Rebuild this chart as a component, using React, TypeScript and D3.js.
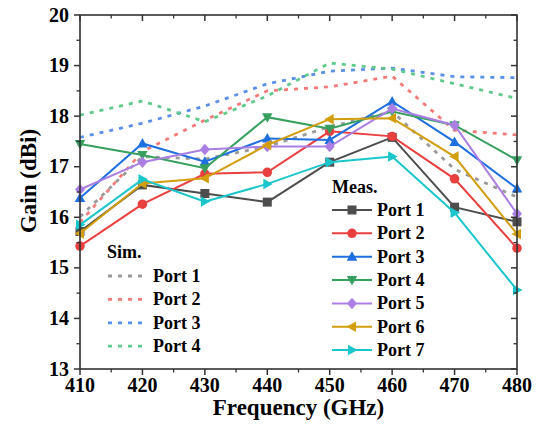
import React from "react";
import * as d3 from "d3";

const freqs = [410, 420, 430, 440, 450, 460, 470, 480];
const xTicks = [410, 420, 430, 440, 450, 460, 470, 480];
const yTicks = [13, 14, 15, 16, 17, 18, 19, 20];

const simNames = ["Port 1", "Port 2", "Port 3", "Port 4"];
const simColors = ["#9a9a9a", "#f47a7a", "#5b8fea", "#5fc98c"];
const simPort1 = [16.01, 17.2, 17.15, 17.4, 17.79, 18.09, 16.95, 16.4];
const simPort2 = [15.9, 17.3, 17.92, 18.5, 18.58, 18.79, 17.72, 17.63];
const simPort3 = [17.58, 17.86, 18.2, 18.64, 18.89, 18.95, 18.78, 18.76];
const simPort4 = [18.02, 18.3, 17.89, 18.4, 19.05, 18.93, 18.64, 18.35];
const simSeries = [simPort1, simPort2, simPort3, simPort4];

const measNames = ["Port 1", "Port 2", "Port 3", "Port 4", "Port 5", "Port 6", "Port 7"];
const measColors = ["#4d4d4d", "#ea3f3f", "#1e6fe0", "#37a05e", "#ab7ee4", "#d29e0e", "#1ac6cb"];
const measShapes = ["square", "circle", "up", "down", "diamond", "left", "right"];
const measPort1 = [15.72, 16.64, 16.47, 16.3, 17.09, 17.58, 16.2, 15.91];
const measPort2 = [15.43, 16.26, 16.86, 16.89, 17.7, 17.6, 16.76, 15.39];
const measPort3 = [16.38, 17.46, 17.1, 17.56, 17.53, 18.29, 17.49, 16.57];
const measPort4 = [17.45, 17.23, 16.97, 17.98, 17.75, 18.09, 17.82, 17.13];
const measPort5 = [16.55, 17.09, 17.34, 17.4, 17.4, 18.15, 17.82, 16.07];
const measPort6 = [15.68, 16.67, 16.77, 17.43, 17.94, 17.96, 17.2, 15.67];
const measPort7 = [15.85, 16.75, 16.31, 16.66, 17.09, 17.2, 16.09, 14.56];
const measSeries = [measPort1, measPort2, measPort3, measPort4, measPort5, measPort6, measPort7];

const FONT = "'Times New Roman', Times, 'Liberation Serif', Tinos, 'DejaVu Serif', 'Noto Serif', FreeSerif, serif";
const L = 80, R = 517, T = 15, B = 369;

function markerPath(shape: string, s: number): string {
  const h = s / 2;
  switch (shape) {
    case "square":
      return `M${-h * 0.9},${-h * 0.9}H${h * 0.9}V${h * 0.9}H${-h * 0.9}Z`;
    case "circle":
      return d3.symbol().type(d3.symbolCircle).size(Math.PI * h * h * 0.9)() || "";
    case "up":
      return `M0,${-h * 1.1}L${h * 1.05},${h * 0.8}L${-h * 1.05},${h * 0.8}Z`;
    case "down":
      return `M0,${h * 1.1}L${h * 1.05},${-h * 0.8}L${-h * 1.05},${-h * 0.8}Z`;
    case "left":
      return `M${-h * 1.1},0L${h * 0.8},${-h * 1.05}L${h * 0.8},${h * 1.05}Z`;
    case "right":
      return `M${h * 1.1},0L${-h * 0.8},${-h * 1.05}L${-h * 0.8},${h * 1.05}Z`;
    case "diamond":
      return `M0,${-h * 1.15}L${h * 1.0},0L0,${h * 1.15}L${-h * 1.0},0Z`;
  }
  return "";
}

export default function App() {
  const x = d3.scaleLinear().domain([410, 480]).range([L, R]);
  const y = d3.scaleLinear().domain([13, 20]).range([B, T]);
  const line = d3
    .line<number>()
    .x((_, i) => x(freqs[i]))
    .y((d) => y(d));

  const xMinor = d3.range(415, 480, 10);
  const yMinor = d3.range(13.5, 20, 1);
  const axisColor = "#333";
  const MS = 10;
  const ts = { fontFamily: FONT, fontWeight: 700 as const };

  return (
    <svg width={544} height={431} style={{ position: "absolute", left: 0, top: 0, fontFamily: FONT }}>
      <rect x={0} y={0} width={544} height={431} fill="#fff" />
      {simSeries.map((s, i) => (
        <path
          key={"sim" + i}
          d={line(s) || ""}
          fill="none"
          stroke={simColors[i]}
          strokeWidth={2.8}
          strokeDasharray="4 6"
        />
      ))}
      {measSeries.map((s, i) => (
        <g key={"meas" + i}>
          <path d={line(s) || ""} fill="none" stroke={measColors[i]} strokeWidth={2} />
          {s.map((v, j) => (
            <path
              key={j}
              d={markerPath(measShapes[i], MS)}
              transform={`translate(${x(freqs[j])},${y(v)})`}
              fill={measColors[i]}
            />
          ))}
        </g>
      ))}
      <rect x={L} y={T} width={R - L} height={B - T} fill="none" stroke={axisColor} strokeWidth={1.6} />
      {xTicks.map((t) => (
        <g key={"xt" + t}>
          <line x1={x(t)} x2={x(t)} y1={B} y2={B + 6} stroke={axisColor} strokeWidth={1.5} />
          <line x1={x(t)} x2={x(t)} y1={T} y2={T + 6} stroke={axisColor} strokeWidth={1.5} />
          <text x={x(t)} y={392} textAnchor="middle" fontSize={20} style={ts}>
            {t}
          </text>
        </g>
      ))}
      {xMinor.map((t) => (
        <g key={"xm" + t}>
          <line x1={x(t)} x2={x(t)} y1={B} y2={B + 3.5} stroke={axisColor} strokeWidth={1.3} />
          <line x1={x(t)} x2={x(t)} y1={T} y2={T + 3.5} stroke={axisColor} strokeWidth={1.3} />
        </g>
      ))}
      {yTicks.map((t) => (
        <g key={"yt" + t}>
          <line x1={L - 6} x2={L} y1={y(t)} y2={y(t)} stroke={axisColor} strokeWidth={1.5} />
          <line x1={R - 6} x2={R} y1={y(t)} y2={y(t)} stroke={axisColor} strokeWidth={1.5} />
          <text x={69} y={y(t) + 6.5} textAnchor="end" fontSize={20} style={ts}>
            {t}
          </text>
        </g>
      ))}
      {yMinor.map((t) => (
        <g key={"ym" + t}>
          <line x1={L - 3.5} x2={L} y1={y(t)} y2={y(t)} stroke={axisColor} strokeWidth={1.3} />
          <line x1={R - 3.5} x2={R} y1={y(t)} y2={y(t)} stroke={axisColor} strokeWidth={1.3} />
        </g>
      ))}
      <text x={(L + R) / 2} y={415} textAnchor="middle" fontSize={23} style={ts}>
        Frequency (GHz)
      </text>
      <text transform={`translate(36,181) rotate(-90)`} textAnchor="middle" fontSize={23} style={ts}>
        Gain (dBi)
      </text>
      <text x={107} y={258} fontSize={18} style={ts}>
        Sim.
      </text>
      {simNames.map((n, i) => {
        const cy = 276 + i * 23.4;
        return (
          <g key={"sl" + i}>
            <line x1={108} x2={146} y1={cy} y2={cy} stroke={simColors[i]} strokeWidth={2.8} strokeDasharray="4 6" />
            <text x={153} y={cy + 6} fontSize={18} style={ts}>
              {n}
            </text>
          </g>
        );
      })}
      <text x={332} y={193} fontSize={18} style={ts}>
        Meas.
      </text>
      {measNames.map((n, i) => {
        const cy = 210 + i * 23.35;
        return (
          <g key={"ml" + i}>
            <line x1={332} x2={372} y1={cy} y2={cy} stroke={measColors[i]} strokeWidth={2} />
            <path d={markerPath(measShapes[i], MS)} transform={`translate(352,${cy})`} fill={measColors[i]} />
            <text x={377} y={cy + 6} fontSize={18} style={ts}>
              {n}
            </text>
          </g>
        );
      })}
    </svg>
  );
}
